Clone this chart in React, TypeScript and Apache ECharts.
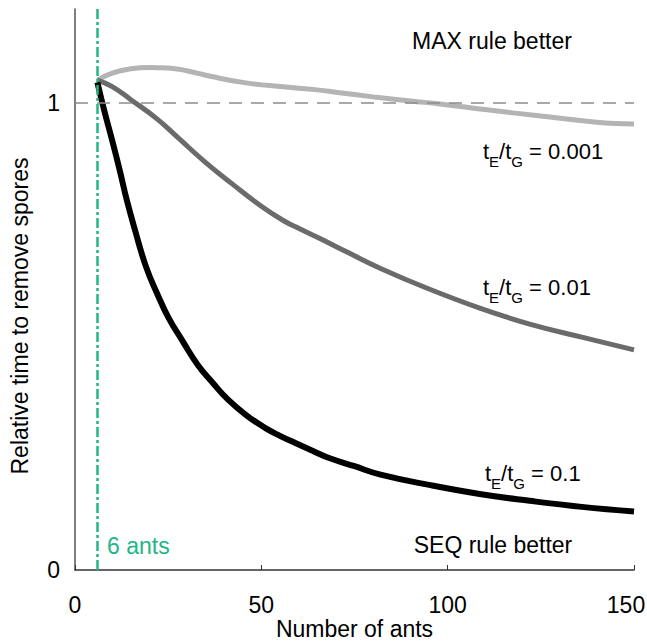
import { useEffect, useRef } from 'react';
import * as echarts from 'echarts';

// ---- data ----
const xTickValues = [0, 50, 100, 150];
const yTickLabels = [0, 1];
const antsX = 6;
const referenceY = 1;

const ratioLabels = ['0.001', '0.01', '0.1'];

// t_E/t_G = 0.001
const xLight = [6, 10, 15, 20, 25, 30, 37, 45, 55, 65, 71, 80, 90, 98, 110, 125, 140, 150];
const yLight = [1.048, 1.063, 1.072, 1.075, 1.074, 1.068, 1.055, 1.043, 1.034, 1.027, 1.021, 1.012, 1.003, 0.997, 0.985, 0.971, 0.958, 0.954];

// t_E/t_G = 0.01
const xMid = [6, 10, 15, 22, 28, 35, 42, 50, 56, 60, 66, 73, 82, 95, 109, 122, 136, 150];
const yMid = [1.048, 1.034, 1.006, 0.965, 0.922, 0.872, 0.827, 0.778, 0.747, 0.731, 0.708, 0.680, 0.645, 0.601, 0.559, 0.526, 0.498, 0.471];

// t_E/t_G = 0.1
const xDark = [6, 8, 10, 12, 14, 16, 19, 22, 25, 29, 33, 37, 41, 46, 51, 55, 59, 64, 68, 75, 82, 95, 109, 122, 136, 150];
const yDark = [1.043, 0.978, 0.918, 0.855, 0.788, 0.730, 0.650, 0.592, 0.541, 0.488, 0.438, 0.400, 0.365, 0.331, 0.304, 0.287, 0.272, 0.254, 0.240, 0.222, 0.204, 0.182, 0.162, 0.148, 0.135, 0.125];

const FONT = "'Liberation Sans', Arial, Helvetica, sans-serif";
const GREEN = '#22b587';
const FS = 23;

export default function App() {
  const ref = useRef<HTMLDivElement>(null);

  useEffect(() => {
    const chart = echarts.init(ref.current!, null, { renderer: 'svg' });
    const pair = (xs: number[], ys: number[]) => xs.map((x, i) => [x, ys[i]]);
    const ratioText = (v: string) => `{m|t}{s|E}{m|/t}{s|G}{m| = ${v}}`;
    const rich = {
      m: { fontSize: 22, fontFamily: FONT, color: '#000' },
      s: { fontSize: 15, fontFamily: FONT, color: '#000', padding: [21, 0, 0, 0] },
    };
    const curve = (xs: number[], ys: number[], color: string, width: number, z: number) => ({
      type: 'line',
      data: pair(xs, ys),
      showSymbol: false,
      smooth: 0.45,
      lineStyle: { color, width },
      z,
    });
    const xMax = xTickValues[xTickValues.length - 1];

    chart.setOption({
      animation: false,
      grid: { left: 75, right: 13, top: 9, bottom: 73, outerBoundsMode: 'none', containLabel: false },
      xAxis: {
        type: 'value',
        min: xTickValues[0],
        max: xMax,
        interval: 50,
        name: 'Number of ants',
        nameLocation: 'middle',
        nameGap: 47,
        nameMoveOverlap: false,
        nameTextStyle: { fontSize: FS, fontFamily: FONT, color: '#000' },
        axisLine: { lineStyle: { color: '#333', width: 1.5 } },
        axisTick: { inside: true, length: 5, lineStyle: { color: '#333', width: 1 } },
        axisLabel: {
          fontSize: FS,
          fontFamily: FONT,
          color: '#000',
          margin: 23,
          formatter: (v: number) => (v === xMax ? `{last|${v}}` : String(v)),
          rich: { last: { fontSize: FS, fontFamily: FONT, color: '#000', padding: [0, 16, 0, 0] } },
        },
        splitLine: { show: false },
      },
      yAxis: {
        type: 'value',
        min: 0,
        max: 1.2,
        interval: 1,
        axisLine: { show: true, lineStyle: { color: '#555', width: 1.5 } },
        axisTick: { show: false },
        axisLabel: {
          fontSize: FS,
          fontFamily: FONT,
          color: '#000',
          margin: 15,
          formatter: (v: number) => (yTickLabels.includes(v) ? String(v) : ''),
        },
        splitLine: { show: false },
      },
      series: [
        {
          ...curve(xLight, yLight, '#b4b4b4', 5, 2),
          markLine: {
            silent: true,
            symbol: 'none',
            label: { show: false },
            lineStyle: { color: '#8c8c8c', type: [13, 9], width: 1.5 },
            data: [{ yAxis: referenceY }],
          },
        },
        curve(xMid, yMid, '#6b6b6b', 5, 3),
        {
          ...curve(xDark, yDark, '#000', 6, 4),
          markLine: {
            silent: true,
            symbol: 'none',
            label: { show: false },
            lineStyle: { color: GREEN, type: [10, 3, 3, 3], width: 2.5 },
            data: [{ xAxis: antsX }],
            z: 10,
          },
        },
      ],
      graphic: [
        {
          type: 'text',
          x: 20,
          y: 316,
          rotation: Math.PI / 2,
          style: {
            text: 'Relative time to remove spores',
            font: `${FS}px ${FONT}`,
            fill: '#000',
            align: 'center',
            verticalAlign: 'middle',
          },
        },
        {
          type: 'text',
          x: 492,
          y: 41,
          style: { text: 'MAX rule better', font: `${FS}px ${FONT}`, fill: '#000', align: 'center', verticalAlign: 'middle' },
        },
        {
          type: 'text',
          x: 493,
          y: 545,
          style: { text: 'SEQ rule better', font: `${FS}px ${FONT}`, fill: '#000', align: 'center', verticalAlign: 'middle' },
        },
        {
          type: 'text',
          x: 107,
          y: 546,
          style: { text: `${antsX} ants`, font: `${FS}px ${FONT}`, fill: GREEN, align: 'left', verticalAlign: 'middle' },
        },
        {
          type: 'text',
          x: 483,
          y: 151,
          style: { text: ratioText(ratioLabels[0]), rich, align: 'left', verticalAlign: 'middle' },
        },
        {
          type: 'text',
          x: 483,
          y: 287,
          style: { text: ratioText(ratioLabels[1]), rich, align: 'left', verticalAlign: 'middle' },
        },
        {
          type: 'text',
          x: 485,
          y: 473,
          style: { text: ratioText(ratioLabels[2]), rich, align: 'left', verticalAlign: 'middle' },
        },
      ],
    });

    return () => chart.dispose();
  }, []);

  return <div ref={ref} style={{ position: 'absolute', left: 0, top: 0, width: 647, height: 643 }} />;
}
